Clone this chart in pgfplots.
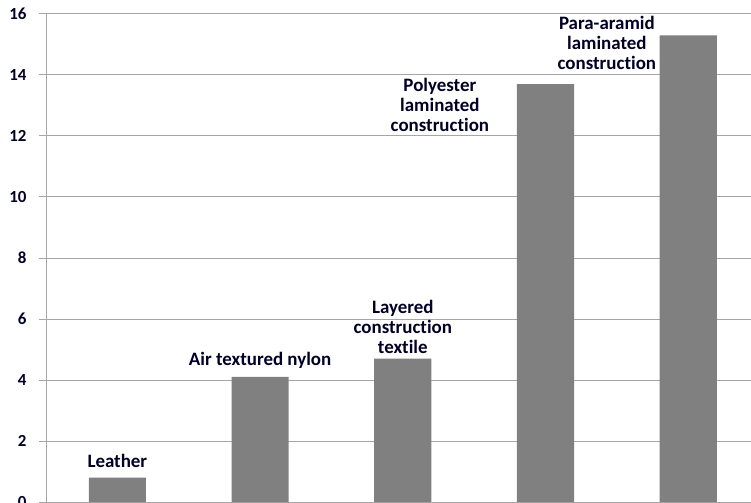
\documentclass[border=0pt]{standalone}
\usepackage{pgfplots}
\pgfplotsset{compat=1.18}
\usepackage{fontspec}
\setmainfont[Ligatures=NoCommon,RawFeature={-liga;-clig;-dlig}]{Carlito}
\definecolor{bargray}{HTML}{808080}
\definecolor{gridgray}{HTML}{A6A6A6}
\begin{document}
\begin{tikzpicture}
\begin{axis}[
  scale only axis,
  width=705bp, height=488bp,
  xmin=-0.5, xmax=4.44,
  ymin=0, ymax=16,
  ytick={0,2,...,16},
  xtick=\empty,
  axis x line=none,
  axis y line*=left,
  axis line style={gridgray, line width=1pt},
  ymajorgrids,
  grid style={gridgray, line width=1pt},
  y tick style={gridgray, line width=1pt},
  tick align=outside,
  major tick length=7bp,
  yticklabel style={font=\fontsize{17}{19}\selectfont\bfseries, text=black!85!blue, xshift=-9bp},
  /pgf/number format/assume math mode=true,
  clip=false,
]
\addplot[ybar, bar width=0.4, fill=bargray, draw=none] coordinates {
  (0,0.8) (1,4.1) (2,4.7) (3,13.7) (4,15.3)
};
\coordinate (O) at (rel axis cs:0,0);
\coordinate (T) at (rel axis cs:1,1);
\tikzset{lab/.style={font=\fontsize{19}{20.5}\selectfont\bfseries, align=center, text=black!85!blue, inner sep=0pt}}
\node[lab] at (axis cs:0,1.34) {Leather};
\node[lab] at (axis cs:1,4.66) {Air textured nylon};
\node[lab] at (axis cs:2,5.74) {Layered\\construction\\textile};
\node[lab] at (axis cs:2.26,13.02) {Polyester\\laminated\\construction};
\node[lab] at (axis cs:3.43,15.05) {Para-aramid\\laminated\\construction};
\end{axis}
\pgfresetboundingbox
\path ([xshift=-46bp,yshift=-1bp]O) rectangle ([yshift=14bp]T);
\end{tikzpicture}
\end{document}
